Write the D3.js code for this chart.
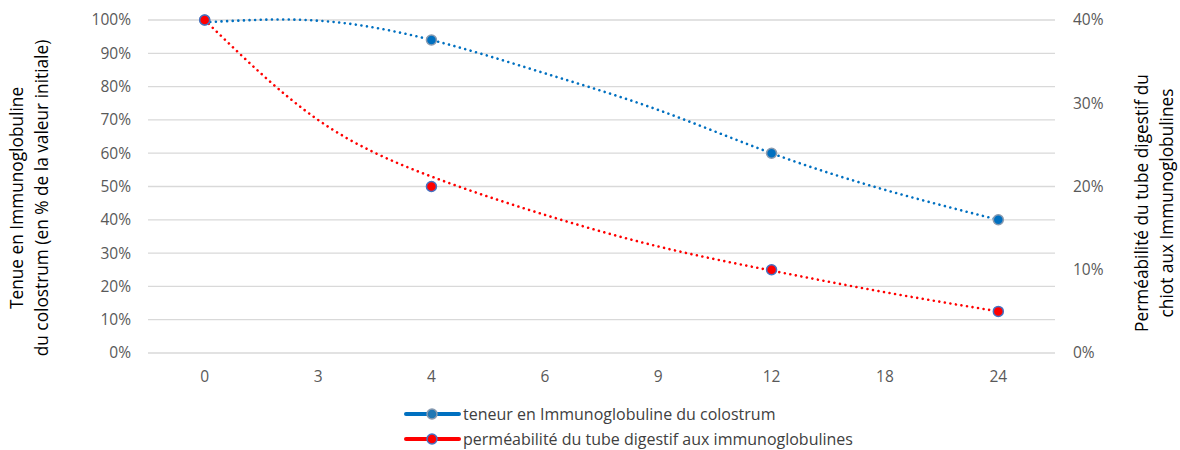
<!DOCTYPE html>
<html>
<head>
<meta charset="utf-8">
<script src="https://cdn.jsdelivr.net/npm/d3@7/dist/d3.min.js"></script>
<style>
  body { margin: 0; background: #fff; }
  svg { display: block; font-family: "Open Sans", sans-serif; }
</style>
</head>
<body>
<svg id="chart" width="1180" height="450"></svg>
<script>
// categories on the x axis (hours)
const hours = ["0", "3", "4", "6", "9", "12", "18", "24"];

// measured points (null where no measurement)
const colostrumPts = [100, null, 94, null, null, 60, null, 40];       // left axis, %
const permeabilityPts = [40, null, 20, null, null, 10, null, 5];      // right axis, %

// dotted trend curves at every category
const colostrumTrend = [99.3, 99.8, 94, 84, 73, 60, 49, 40];          // left axis, %
const permeabilityTrend = [40, 28, 21.2, 16.6, 12.8, 9.9, 7.3, 5];    // right axis, %

const leftTicks = [0, 10, 20, 30, 40, 50, 60, 70, 80, 90, 100];
const rightTicks = [0, 10, 20, 30, 40];

const legendLabels = [
  "teneur en Immunoglobuline du colostrum",
  "perméabilité du tube digestif aux immunoglobulines"
];

const blue = "#0070C0", red = "#FF0000";
const plot = { left: 148, right: 1055, top: 20, bottom: 353 };

const svg = d3.select("#chart");

const x = d3.scaleBand().domain(hours).range([plot.left, plot.right]);
const cx = d => x(d) + x.bandwidth() / 2;
const yL = d3.scaleLinear().domain([0, 100]).range([plot.bottom, plot.top]);
const yR = d3.scaleLinear().domain([0, 40]).range([plot.bottom, plot.top]);

// gridlines
svg.append("g")
  .selectAll("line").data(leftTicks).join("line")
  .attr("x1", plot.left).attr("x2", plot.right)
  .attr("y1", d => yL(d)).attr("y2", d => yL(d))
  .attr("stroke", "#d9d9d9").attr("stroke-width", 1.3);

// left axis
const axL = svg.append("g")
  .attr("transform", `translate(${plot.left},0)`)
  .call(d3.axisLeft(yL).tickValues(leftTicks).tickSize(0).tickPadding(17).tickFormat(d => d + "%"));
axL.select(".domain").remove();
axL.selectAll("text").attr("font-size", 15.5).attr("fill", "#595959").attr("font-family", "Open Sans");

// right axis
const axR = svg.append("g")
  .attr("transform", `translate(${plot.right},0)`)
  .call(d3.axisRight(yR).tickValues(rightTicks).tickSize(0).tickPadding(18).tickFormat(d => d + "%"));
axR.select(".domain").remove();
axR.selectAll("text").attr("font-size", 15.5).attr("fill", "#595959").attr("font-family", "Open Sans");

// bottom axis
const axB = svg.append("g")
  .attr("transform", `translate(0,${plot.bottom})`)
  .call(d3.axisBottom(x).tickSize(0).tickPadding(18));
axB.select(".domain").remove();
axB.selectAll("text").attr("font-size", 15.5).attr("fill", "#595959").attr("font-family", "Open Sans");

// axis titles
const leftTitle = svg.append("text")
  .attr("transform", "translate(23,198) rotate(-90)")
  .attr("text-anchor", "middle").attr("font-size", 17.3).attr("fill", "#000");
leftTitle.append("tspan").attr("x", 0).attr("dy", 0).text("Tenue en Immunoglobuline");
leftTitle.append("tspan").attr("x", 0).attr("dy", 25).text("du colostrum (en % de la valeur initiale)");

const rightTitle = svg.append("text")
  .attr("transform", "translate(1148,203) rotate(-90)")
  .attr("text-anchor", "middle").attr("font-size", 17.3).attr("fill", "#000");
rightTitle.append("tspan").attr("x", 0).attr("dy", 0).text("Perméabilité du tube digestif du");
rightTitle.append("tspan").attr("x", 0).attr("dy", 25).text("chiot aux Immunoglobulines");

// dotted trend curves
const lineL = d3.line().x((d, i) => cx(hours[i])).y(d => yL(d)).curve(d3.curveNatural);
const lineR = d3.line().x((d, i) => cx(hours[i])).y(d => yR(d)).curve(d3.curveNatural);

svg.append("path").datum(colostrumTrend)
  .attr("d", lineL).attr("fill", "none")
  .attr("stroke", blue).attr("stroke-width", 2.6)
  .attr("stroke-linecap", "round").attr("stroke-dasharray", "0.01 5.6");

svg.append("path").datum(permeabilityTrend)
  .attr("d", lineR).attr("fill", "none")
  .attr("stroke", red).attr("stroke-width", 2.6)
  .attr("stroke-linecap", "round").attr("stroke-dasharray", "0.01 5.6");

// markers
const ptsL = colostrumPts.map((v, i) => ({ h: hours[i], v })).filter(d => d.v !== null);
const ptsR = permeabilityPts.map((v, i) => ({ h: hours[i], v })).filter(d => d.v !== null);

svg.append("g").selectAll("circle").data(ptsL).join("circle")
  .attr("cx", d => cx(d.h)).attr("cy", d => yL(d.v)).attr("r", 5)
  .attr("fill", blue).attr("stroke", "#8a9bb0").attr("stroke-width", 1.5);

svg.append("g").selectAll("circle").data(ptsR).join("circle")
  .attr("cx", d => cx(d.h)).attr("cy", d => yR(d.v)).attr("r", 5)
  .attr("fill", red).attr("stroke", "#4472C4").attr("stroke-width", 1.5);

// legend
const legend = svg.append("g");
const legendColors = [[blue, "#8a9bb0"], [red, "#4472C4"]];
legendLabels.forEach((label, i) => {
  const ly = 414 + i * 25;
  const [c, edge] = legendColors[i];
  legend.append("line").attr("x1", 406).attr("x2", 459).attr("y1", ly).attr("y2", ly)
    .attr("stroke", c).attr("stroke-width", 4).attr("stroke-linecap", "round");
  legend.append("circle").attr("cx", 432).attr("cy", ly).attr("r", 5)
    .attr("fill", i === 0 ? "#1f77b4" : c).attr("stroke", edge).attr("stroke-width", 1.5);
  legend.append("text").attr("x", 463).attr("y", ly).attr("dy", "0.35em")
    .attr("font-size", 16).attr("fill", "#404040").text(label);
});
</script>
</body>
</html>
